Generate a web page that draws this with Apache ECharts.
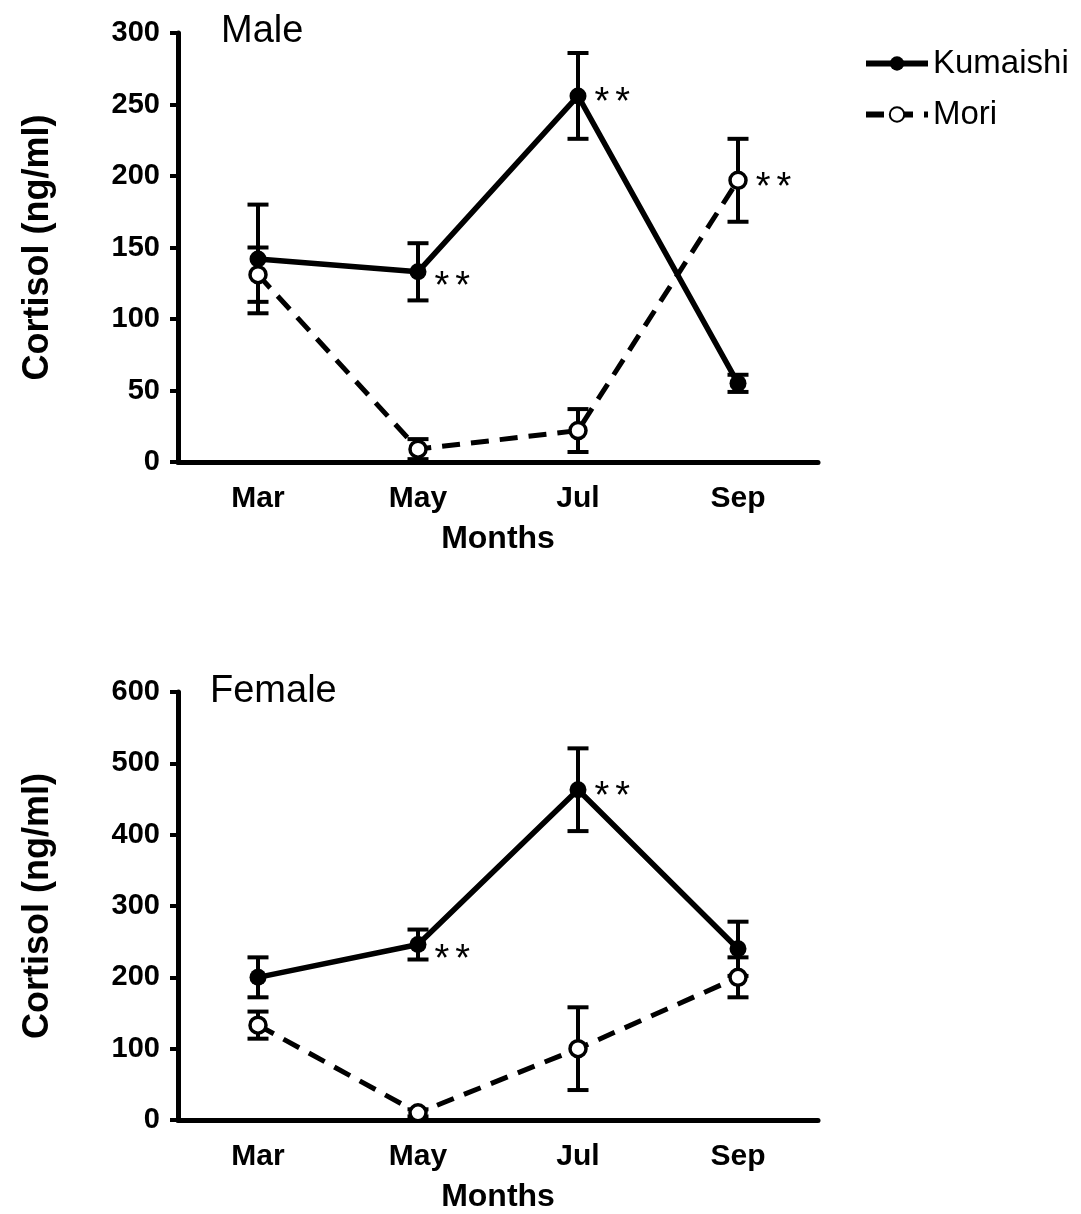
<!DOCTYPE html>
<html>
<head>
<meta charset="utf-8">
<script src="https://cdn.jsdelivr.net/npm/echarts@6/dist/echarts.min.js"></script>
<style>
  html, body { margin: 0; padding: 0; background: #fff; }
  #chart { width: 1081px; height: 1214px; }
</style>
</head>
<body>
<div id="chart"></div>
<script>
// data
const months = ['Mar', 'May', 'Jul', 'Sep'];

const kumaishiMale = [142, 133, 256, 55];
const kumaishiMaleErr = [38, 20, 30, 6];
const kumaishiMaleSig = ['', '**', '**', ''];
const moriMale = [131, 9, 22, 197];
const moriMaleErr = [19, 7, 15, 29];
const moriMaleSig = ['', '', '', '**'];

const kumaishiFemale = [200, 246, 463, 240];
const kumaishiFemaleErr = [28, 21, 58, 38];
const kumaishiFemaleSig = ['', '**', '**', ''];
const moriFemale = [133, 10, 100, 200];
const moriFemaleErr = [19, 5, 58, 28];
const moriFemaleSig = ['', '', '', ''];

const maleMax = 300, maleStep = 50;
const femaleMax = 600, femaleStep = 100;

const FONT = 'Liberation Sans, Arial, sans-serif';
const chart = echarts.init(document.getElementById('chart'));

function pointData(vals, sig) {
  return vals.map((v, i) => {
    const item = { value: v };
    if (sig[i]) {
      item.label = {
        show: true,
        position: 'right',
        distance: 8,
        offset: [0, i === 1 ? 16 : 8],
        formatter: '{a|*}{b|*}',
        rich: {
          a: { fontSize: 38, fontFamily: FONT, color: '#000' },
          b: { fontSize: 38, fontFamily: FONT, color: '#000', padding: [0, 0, 0, 6] }
        }
      };
    }
    return item;
  });
}

function errData(vals, errs) {
  return vals.map((v, i) => [i, v - errs[i], v + errs[i]]);
}

function errorSeries(vals, errs, idx) {
  return {
    type: 'custom',
    xAxisIndex: idx,
    yAxisIndex: idx,
    z: 1,
    silent: true,
    data: errData(vals, errs),
    renderItem: (params, api) => {
      const lo = api.coord([api.value(0), api.value(1)]);
      const hi = api.coord([api.value(0), api.value(2)]);
      const w = 10.5;
      const st = { stroke: '#000', lineWidth: 4 };
      return {
        type: 'group',
        children: [
          { type: 'line', shape: { x1: lo[0], y1: lo[1], x2: hi[0], y2: hi[1] }, style: st },
          { type: 'line', shape: { x1: lo[0] - w, y1: lo[1], x2: lo[0] + w, y2: lo[1] }, style: st },
          { type: 'line', shape: { x1: hi[0] - w, y1: hi[1], x2: hi[0] + w, y2: hi[1] }, style: st }
        ]
      };
    }
  };
}

function kumaishiSeries(vals, sig, idx) {
  return {
    name: 'Kumaishi',
    type: 'line',
    xAxisIndex: idx,
    yAxisIndex: idx,
    z: 3,
    symbol: 'circle',
    symbolSize: 17,
    itemStyle: { color: '#000' },
    lineStyle: { color: '#000', width: 5.5 },
    data: pointData(vals, sig)
  };
}

function moriSeries(vals, sig, idx) {
  return {
    name: 'Mori',
    type: 'line',
    xAxisIndex: idx,
    yAxisIndex: idx,
    z: 2,
    symbol: 'circle',
    symbolSize: 16,
    itemStyle: { color: '#fff', borderColor: '#000', borderWidth: 3.5 },
    lineStyle: { color: '#000', width: 5, type: [18, 11] },
    data: pointData(vals, sig)
  };
}

function xAxis(idx) {
  return {
    type: 'category',
    gridIndex: idx,
    data: months,
    boundaryGap: true,
    name: 'Months',
    nameLocation: 'middle',
    nameGap: 61,
    nameTextStyle: { fontSize: 32, fontWeight: 'bold', fontFamily: FONT, color: '#000' },
    axisLine: { lineStyle: { color: '#000', width: 5 } },
    axisTick: { show: false },
    axisLabel: { margin: 22, fontSize: 30, fontWeight: 'bold', fontFamily: FONT, color: '#000' },
    splitLine: { show: false }
  };
}

function yAxis(idx, max, step) {
  return {
    type: 'value',
    gridIndex: idx,
    min: 0,
    max: max,
    interval: step,
    name: 'Cortisol (ng/ml)',
    nameLocation: 'middle',
    nameRotate: 90,
    nameGap: 122,
    nameTextStyle: { fontSize: 36, fontWeight: 'bold', fontFamily: FONT, color: '#000' },
    axisLine: { show: true, lineStyle: { color: '#000', width: 5 } },
    axisTick: { show: true, length: 8, lineStyle: { color: '#000', width: 4 } },
    axisLabel: { margin: 18, fontSize: 29, fontWeight: 'bold', fontFamily: FONT, color: '#000' },
    splitLine: { show: false }
  };
}

const option = {
  backgroundColor: '#fff',
  animation: false,
  title: [
    { text: 'Male', left: 216, top: 8, textStyle: { fontSize: 38, fontWeight: 'normal', fontFamily: FONT, color: '#000' } },
    { text: 'Female', left: 205, top: 668, textStyle: { fontSize: 38, fontWeight: 'normal', fontFamily: FONT, color: '#000' } }
  ],
  legend: {
    data: ['Kumaishi', 'Mori'],
    orient: 'vertical',
    left: 858,
    top: 42,
    itemWidth: 62,
    itemHeight: 18,
    itemGap: 18,
    lineStyle: { width: 6 },
    textStyle: { fontSize: 33, lineHeight: 33, fontFamily: FONT, color: '#000' }
  },
  grid: [
    { left: 178, width: 640, top: 33, height: 429 },
    { left: 178, width: 640, top: 692, height: 431 }
  ],
  xAxis: [xAxis(0), xAxis(1)],
  yAxis: [yAxis(0, maleMax, maleStep), yAxis(1, femaleMax, femaleStep)],
  series: [
    errorSeries(kumaishiMale, kumaishiMaleErr, 0),
    errorSeries(moriMale, moriMaleErr, 0),
    kumaishiSeries(kumaishiMale, kumaishiMaleSig, 0),
    moriSeries(moriMale, moriMaleSig, 0),
    errorSeries(kumaishiFemale, kumaishiFemaleErr, 1),
    errorSeries(moriFemale, moriFemaleErr, 1),
    kumaishiSeries(kumaishiFemale, kumaishiFemaleSig, 1),
    moriSeries(moriFemale, moriFemaleSig, 1)
  ]
};

chart.setOption(option);
</script>
</body>
</html>
